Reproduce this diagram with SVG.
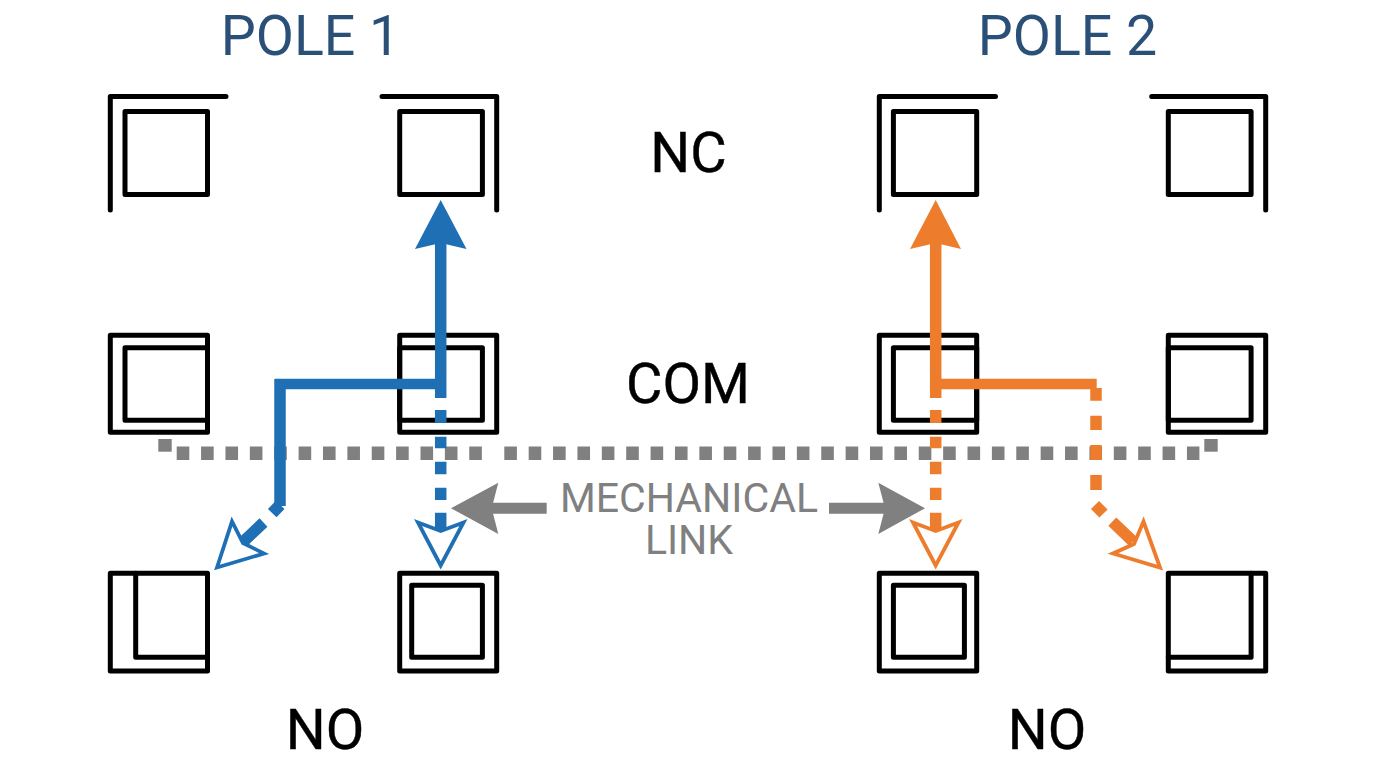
<svg xmlns="http://www.w3.org/2000/svg" width="1376" height="768" viewBox="0 0 1376 768">
<style>
.b{fill:none;stroke:#000;stroke-width:5;stroke-linejoin:round;stroke-linecap:round}
text{font-family:Roboto,"Liberation Sans",sans-serif;text-anchor:middle}
.t{font-size:55.5px;fill:#2a5078}
.l{font-size:56px;fill:#000;stroke:#000;stroke-width:.4}
.m{font-size:41px;fill:#808080}
.blue{fill:none;stroke:#1f6fb5}
.org{fill:none;stroke:#ed7d2d}
.s{stroke-width:11.5}
.h{stroke-width:10.5}
.bh{fill:#1f6fb5}
.oh{fill:#ed7d2d}
.bo{fill:#fff;stroke:#1f6fb5;stroke-width:3.8;stroke-linejoin:miter}
.oo{fill:#fff;stroke:#ed7d2d;stroke-width:3.8;stroke-linejoin:miter}
.g{fill:none;stroke:#808080}
.gh{fill:#808080}
</style>
<rect width="1376" height="768" fill="#fff"/>
<g id="titles">
<text class="t" x="310.5" y="55">POLE 1</text>
<text class="t" x="1067.5" y="55">POLE 2</text>
</g>
<g id="labels">
<text class="l" x="688.5" y="171.5">NC</text>
<text class="l" x="688" y="403">COM</text>
<text class="l" x="325" y="749">NO</text>
<text class="l" x="1047" y="749">NO</text>
</g>
<g id="p1-nc1"><path class="b" d="M110.3 210V96.5H226"/><rect class="b" x="125" y="111.5" width="82.5" height="83"/></g>
<g id="p1-nc2"><path class="b" d="M382 96.5H496.7V210"/><rect class="b" x="399.7" y="111.5" width="82.7" height="83"/></g>
<g id="p2-nc1"><path class="b" d="M879.3 210V96.5H995.5"/><rect class="b" x="893.4" y="111.5" width="83.3" height="83"/></g>
<g id="p2-nc2"><path class="b" d="M1151.7 96.5H1265.7V210"/><rect class="b" x="1168.3" y="111.5" width="82.8" height="83"/></g>
<g id="p1-com1"><rect class="b" x="110.3" y="335.3" width="97.2" height="97"/><rect class="b" x="125" y="347.7" width="82.5" height="72.5"/></g>
<g id="p1-com2"><rect class="b" x="399.7" y="335.3" width="97" height="97"/><rect class="b" x="399.7" y="347.7" width="82.7" height="72.5"/></g>
<g id="p2-com1"><rect class="b" x="879.3" y="335.3" width="97.4" height="97"/><rect class="b" x="893.4" y="347.7" width="83.3" height="72.5"/></g>
<g id="p2-com2"><rect class="b" x="1168.3" y="335.3" width="97.4" height="97"/><rect class="b" x="1168.3" y="347.7" width="82.8" height="72.5"/></g>
<g id="p1-no1"><rect class="b" x="110.3" y="573.3" width="97.2" height="97.7"/><path class="b" d="M135.7 573.3V657.3H207.5"/></g>
<g id="p1-no2"><rect class="b" x="399.7" y="573.3" width="97" height="97.7"/><rect class="b" x="411.7" y="585.3" width="70.7" height="72"/></g>
<g id="p2-no1"><rect class="b" x="879.3" y="573.3" width="97.4" height="97.7"/><rect class="b" x="893.4" y="585.3" width="71" height="72"/></g>
<g id="p2-no2"><rect class="b" x="1168.3" y="573.3" width="97.4" height="97.7"/><path class="b" d="M1251.1 573.3V657.3H1168.3"/></g>
<g id="connectors">
<g id="mechanical-link">
<path class="g" stroke-width="13.5" stroke-dasharray="12.6 11.78" d="M176.7 453.3H482"/>
<path class="g" stroke-width="13.5" stroke-dasharray="12.6 11.78" d="M504.3 453.3H1199.4"/>
<rect class="gh" x="158.3" y="439" width="13.4" height="12.7"/>
<rect class="gh" x="1204.3" y="439" width="13.4" height="12.7"/>
<path class="g" stroke-width="11" d="M546.7 508.3H491M829 508.3H885"/>
<polygon class="gh" points="451,508.3 498.3,482.7 491.7,508.3 498.3,534"/>
<polygon class="gh" points="925,508.3 878.3,482.7 885,508.3 878.3,534"/>
</g>
<g id="pole1-paths">
<path class="blue s" d="M440.7 240V398M440.7 410V423M440.7 436.7V448.3M440.7 461.7V474.3M440.7 487.7V500M440.7 512.7V531"/>
<path class="blue h" d="M440.7 384H275"/>
<path class="blue s" d="M280 379V506"/>
<path class="blue s" d="M271.9 504.9L280.5 513.1M263.5 522.5L243.5 541.5"/>
<polygon class="bh" points="440.7,200 415,249 440.7,243 466.5,249"/>
<polygon class="bo" points="440.7,565.5 418,522.5 440.7,531 463.5,522.5"/>
<polygon class="bo" points="217,567.5 232,521.5 243,543 264,553.5"/>
</g>
<g id="pole2-paths">
<path class="org s" d="M935.7 240V398M935.7 410V423M935.7 436.7V448.3M935.7 461.7V474.3M935.7 487.7V500M935.7 512.7V531"/>
<path class="org h" d="M935.7 384H1096.7"/>
<path class="org s" d="M1096 388V400.7M1096 415.7V430M1096 445V460M1096 475V490"/>
<path class="org s" d="M1095 505L1103.5 513.5M1112.3 521.7L1133 541.5"/>
<polygon class="oh" points="935.7,200 910,249 935.7,243 961,249"/>
<polygon class="oo" points="935.7,565.5 913,522.5 935.7,531 958.5,522.5"/>
<polygon class="oo" points="1160,567.5 1143.5,521.5 1134,544 1113,553.5"/>
</g>
</g>
<g id="link-label">
<text class="m" x="689" y="512.3">MECHANICAL</text>
<text class="m" x="689" y="554">LINK</text>
</g>
</svg>
